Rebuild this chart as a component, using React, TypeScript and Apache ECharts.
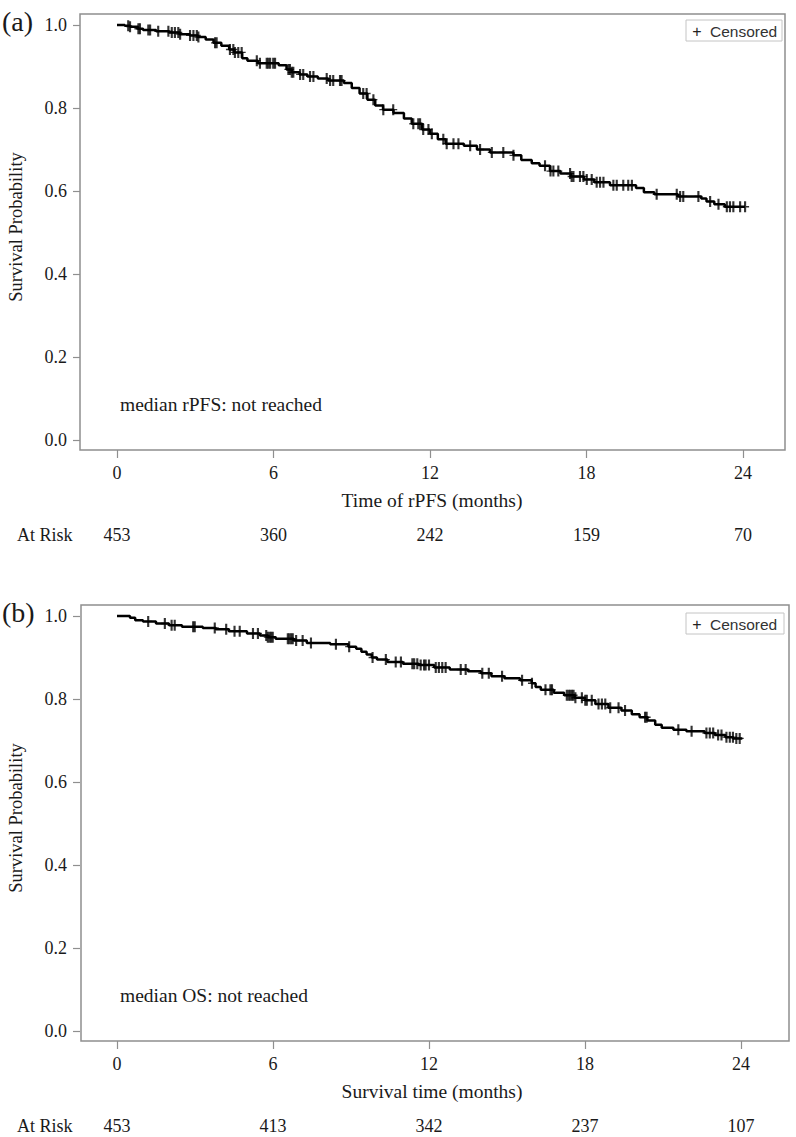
import React, { useEffect, useRef } from "react";
import * as echarts from "echarts";

// ---- Data ----
const xTicks = [0, 6, 12, 18, 24];

const pfsTime = [0, 0.3, 0.5, 0.8, 1.0, 1.5, 2.0, 2.4, 2.8, 3.1, 3.4, 3.7, 4.0, 4.3, 4.5, 4.8, 5.0, 5.4, 6.2, 6.5, 6.7, 7.0, 7.3, 7.7, 8.1, 8.7, 9.0, 9.3, 9.6, 9.9, 10.2, 10.6, 11.0, 11.3, 11.7, 12.0, 12.3, 12.6, 13.3, 13.8, 14.3, 15.2, 15.5, 15.9, 16.2, 16.6, 17.0, 17.4, 17.9, 18.3, 18.9, 19.9, 20.2, 20.6, 21.5, 22.4, 22.6, 22.9, 23.3, 24.15];
const pfsSurv = [1.0, 0.998, 0.996, 0.991, 0.988, 0.985, 0.982, 0.978, 0.975, 0.971, 0.965, 0.957, 0.95, 0.941, 0.934, 0.92, 0.914, 0.908, 0.903, 0.893, 0.886, 0.881, 0.876, 0.871, 0.866, 0.86, 0.848, 0.835, 0.82, 0.806, 0.796, 0.788, 0.775, 0.762, 0.748, 0.738, 0.725, 0.714, 0.709, 0.7, 0.693, 0.686, 0.675, 0.667, 0.661, 0.648, 0.642, 0.635, 0.628, 0.621, 0.614, 0.607, 0.597, 0.592, 0.587, 0.582, 0.575, 0.568, 0.562, 0.562];
const pfsCensor = [0.43, 0.5, 0.82, 0.88, 1.2, 1.27, 1.58, 1.97, 2.1, 2.22, 2.35, 2.42, 2.8, 2.93, 3.06, 3.12, 3.76, 3.82, 4.33, 4.46, 4.52, 4.65, 4.78, 5.36, 5.48, 5.74, 5.8, 5.87, 5.99, 6.06, 6.57, 6.63, 6.7, 6.76, 7.02, 7.14, 7.4, 7.53, 8.04, 8.17, 8.29, 8.55, 8.61, 9.44, 9.57, 9.83, 10.21, 10.59, 11.36, 11.55, 11.62, 11.74, 11.94, 12.07, 12.51, 12.64, 12.9, 13.09, 13.54, 13.92, 14.37, 14.81, 15.2, 16.41, 16.62, 16.73, 16.92, 17.37, 17.43, 17.5, 17.75, 17.88, 18.01, 18.2, 18.39, 18.52, 18.65, 19.03, 19.16, 19.41, 19.6, 19.74, 20.69, 21.46, 21.59, 21.71, 22.29, 22.74, 23.06, 23.38, 23.5, 23.63, 23.89, 24.08];
const pfsAtRisk = [453, 360, 242, 159, 70];

const osTime = [0, 0.5, 0.7, 1.0, 1.5, 2.0, 2.5, 3.3, 3.8, 4.3, 5.0, 5.5, 5.8, 6.1, 6.8, 7.3, 8.2, 8.9, 9.2, 9.4, 9.6, 9.8, 10.0, 10.4, 11.0, 11.6, 12.2, 12.8, 13.5, 14.0, 14.4, 14.9, 15.5, 15.95, 16.1, 16.3, 16.8, 17.2, 17.6, 18.0, 18.4, 18.9, 19.4, 19.8, 20.1, 20.4, 20.7, 20.95, 21.4, 21.9, 22.6, 23.0, 23.4, 23.7, 24.05];
const osSurv = [1.0, 0.996, 0.99, 0.987, 0.982, 0.978, 0.974, 0.971, 0.968, 0.963, 0.958, 0.953, 0.949, 0.945, 0.941, 0.935, 0.932, 0.926, 0.921, 0.914, 0.907, 0.9, 0.895, 0.889, 0.885, 0.882, 0.876, 0.871, 0.867, 0.862, 0.855, 0.85, 0.845, 0.838, 0.829, 0.822, 0.815, 0.809, 0.803, 0.797, 0.788, 0.779, 0.772, 0.763, 0.756, 0.748, 0.738, 0.731, 0.726, 0.722, 0.718, 0.713, 0.708, 0.705, 0.705];
const osCensor = [1.2, 1.84, 2.1, 2.22, 2.93, 2.99, 3.76, 4.2, 4.52, 4.72, 5.23, 5.42, 5.74, 5.8, 5.87, 5.93, 5.99, 6.57, 6.63, 6.7, 6.76, 6.89, 7.14, 7.46, 8.42, 8.93, 9.83, 10.34, 10.72, 10.92, 11.36, 11.43, 11.55, 11.68, 11.81, 11.87, 12.0, 12.26, 12.38, 12.51, 12.64, 13.22, 13.41, 14.05, 14.3, 14.81, 15.58, 15.96, 16.48, 16.67, 16.73, 17.3, 17.37, 17.43, 17.5, 17.56, 17.63, 17.88, 18.01, 18.07, 18.26, 18.52, 18.65, 18.78, 18.97, 19.29, 19.54, 20.31, 20.37, 21.59, 22.1, 22.67, 22.8, 22.93, 23.12, 23.25, 23.44, 23.57, 23.69, 23.82, 23.95];
const osAtRisk = [453, 413, 342, 237, 107];

// ---- helpers ----
function survivalAt(times: number[], surv: number[], t: number) {
  let s = surv[0];
  for (let i = 0; i < times.length; i++) {
    if (times[i] <= t) s = surv[i];
    else break;
  }
  return s;
}

const SERIF = "'Liberation Serif', 'Times New Roman', serif";
const SANS = "'Liberation Sans', Arial, sans-serif";
const TXT = "#1a1a1a";
const FRAME = "#8f8f8f";
const PLUS =
  "path://M-0.8,-5 L0.8,-5 L0.8,-0.6 L3,-0.6 L3,0.6 L0.8,0.6 L0.8,5 L-0.8,5 L-0.8,0.6 L-3,0.6 L-3,-0.6 L-0.8,-0.6 Z";

export default function App() {
  const ref = useRef<HTMLDivElement>(null);
  useEffect(() => {
    if (!ref.current) return;
    const chart = echarts.init(ref.current, null, { renderer: "svg" });

    const panels = [
      { top: 25, left: 117, width: 626 },
      { top: 616, left: 117, width: 624 },
    ];

    const grids = panels.map((p) => ({
      left: p.left,
      top: p.top,
      width: p.width,
      height: 415,
    }));

    const xAxes: any[] = [];
    const yAxes: any[] = [];
    const atRiskSets = [pfsAtRisk, osAtRisk];
    panels.forEach((_, gi) => {
      xAxes.push({
        type: "value",
        gridIndex: gi,
        min: 0,
        max: 24,
        interval: 6,
        position: "bottom",
        offset: 10,
        axisLine: { show: false, onZero: false },
        axisTick: { show: true, inside: false, length: 8, lineStyle: { color: FRAME, width: 1.2 } },
        axisLabel: {
          margin: 14,
          fontFamily: SERIF,
          fontSize: 18,
          lineHeight: 18,
          color: TXT,
          formatter: (v: number) => String(v),
        },
        splitLine: { show: false },
      });
      xAxes.push({
        type: "value",
        gridIndex: gi,
        min: 0,
        max: 24,
        interval: 6,
        position: "bottom",
        offset: 85,
        axisLine: { show: false, onZero: false },
        axisTick: { show: false },
        axisLabel: {
          margin: 1,
          fontFamily: SERIF,
          fontSize: 18,
          lineHeight: 18,
          color: TXT,
          formatter: (v: number) => String(atRiskSets[gi][xTicks.indexOf(v)] ?? ""),
        },
        splitLine: { show: false },
      });
      yAxes.push({
        type: "value",
        gridIndex: gi,
        min: 0,
        max: 1,
        interval: 0.2,
        position: "left",
        offset: 37,
        axisLine: { show: false, onZero: false },
        axisTick: { show: true, inside: false, length: 7, lineStyle: { color: FRAME, width: 1.2 } },
        axisLabel: {
          margin: 13,
          fontFamily: SERIF,
          fontSize: 18,
          color: TXT,
          formatter: (v: number) => v.toFixed(1),
        },
        splitLine: { show: false },
      });
    });

    const mkLine = (times: number[], surv: number[], gi: number) => ({
      type: "line",
      xAxisIndex: gi * 2,
      yAxisIndex: gi,
      data: times.map((t, i) => [t, surv[i]]),
      step: "end",
      showSymbol: false,
      symbol: "none",
      clip: false,
      lineStyle: { color: "#000", width: 2.5 },
      z: 3,
    });
    const mkCensor = (times: number[], surv: number[], cens: number[], gi: number) => ({
      type: "scatter",
      xAxisIndex: gi * 2,
      yAxisIndex: gi,
      data: cens.map((t) => [t, survivalAt(times, surv, t)]),
      symbol: PLUS,
      symbolSize: [8, 11],
      itemStyle: { color: "#000" },
      clip: false,
      z: 4,
    });

    const frames = [
      { x: 80, y: 14, w: 705, h: 436 },
      { x: 81, y: 605, w: 708, h: 436 },
    ];
    const panelTexts = [
      { tag: "(a)", note: "median rPFS: not reached", xname: "Time of rPFS (months)", dy: 0, ly: 20, legendW: 96 },
      { tag: "(b)", note: "median OS: not reached", xname: "Survival time (months)", dy: 591, ly: 613, legendW: 98 },
    ];

    const graphic: any[] = [];
    frames.forEach((f) => {
      graphic.push({
        type: "rect",
        shape: { x: f.x, y: f.y, width: f.w, height: f.h },
        style: { fill: "none", stroke: FRAME, lineWidth: 1.5 },
        z: 1,
      });
    });
    panelTexts.forEach((p) => {
      graphic.push({
        type: "text",
        x: 2,
        y: 21 + p.dy,
        style: { text: p.tag, font: `28px ${SERIF}`, fill: TXT, textVerticalAlign: "middle" },
      });
      graphic.push({
        type: "text",
        x: 16,
        y: 227 + p.dy,
        rotation: Math.PI / 2,
        style: {
          text: "Survival Probability",
          font: `18.5px ${SERIF}`,
          fill: TXT,
          textAlign: "center",
          textVerticalAlign: "middle",
        },
      });
      graphic.push({
        type: "text",
        x: 120,
        y: 404 + p.dy,
        style: { text: p.note, font: `19.5px ${SERIF}`, fill: TXT, textVerticalAlign: "middle" },
      });
      graphic.push({
        type: "text",
        x: 432,
        y: 500 + p.dy,
        style: { text: p.xname, font: `19.5px ${SERIF}`, fill: TXT, textAlign: "center", textVerticalAlign: "middle" },
      });
      graphic.push({
        type: "text",
        x: 17,
        y: 535 + p.dy,
        style: { text: "At Risk", font: `18px ${SERIF}`, fill: TXT, textVerticalAlign: "middle" },
      });
      graphic.push({
        type: "rect",
        shape: { x: 686, y: p.ly, width: p.legendW, height: 21 },
        style: { fill: "#fff", stroke: "#c4c4c4", lineWidth: 1 },
        z: 5,
      });
      graphic.push({
        type: "text",
        x: 697,
        y: p.ly + 11,
        style: { text: "+", font: `16px ${SANS}`, fill: "#222", textAlign: "center", textVerticalAlign: "middle" },
        z: 6,
      });
      graphic.push({
        type: "text",
        x: 710,
        y: p.ly + 11,
        style: { text: "Censored", font: `15.5px ${SANS}`, fill: "#333", textVerticalAlign: "middle" },
        z: 6,
      });
    });

    chart.setOption({
      animation: false,
      backgroundColor: "#fff",
      grid: grids,
      xAxis: xAxes,
      yAxis: yAxes,
      series: [
        mkLine(pfsTime, pfsSurv, 0),
        mkCensor(pfsTime, pfsSurv, pfsCensor, 0),
        mkLine(osTime, osSurv, 1),
        mkCensor(osTime, osSurv, osCensor, 1),
      ],
      graphic,
    });
    return () => chart.dispose();
  }, []);

  return (
    <div
      ref={ref}
      style={{ position: "absolute", left: 0, top: 0, width: 796, height: 1137, background: "#fff" }}
    />
  );
}
